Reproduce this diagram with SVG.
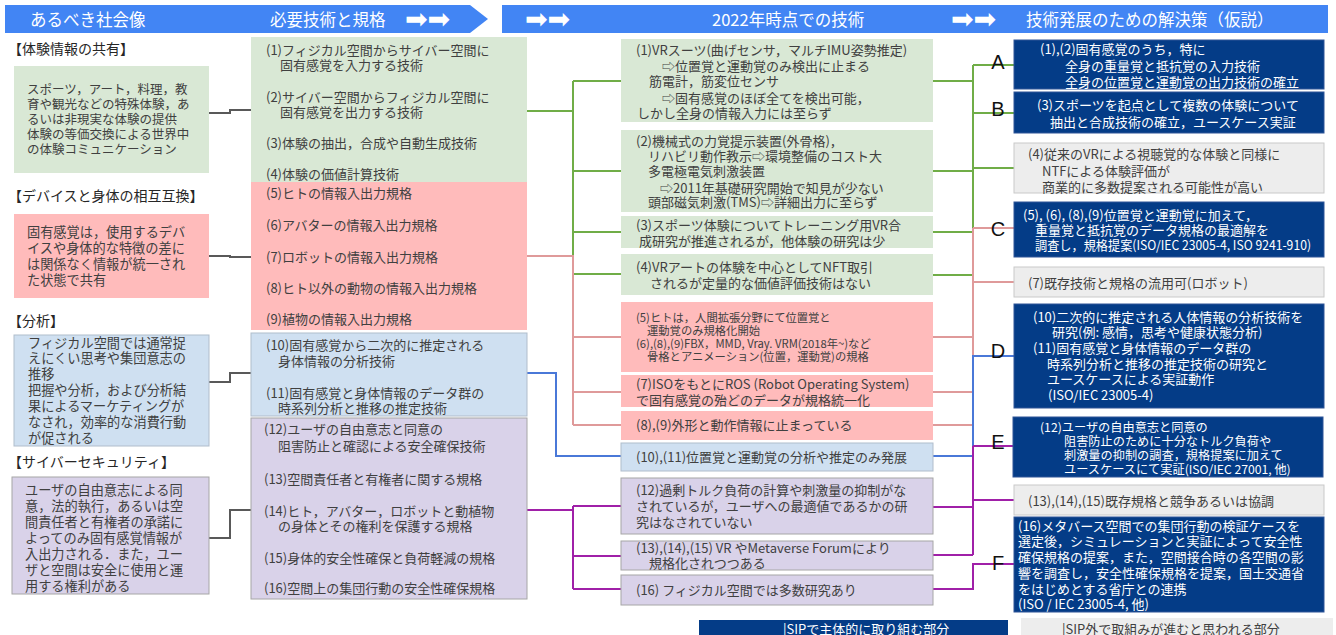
<svg xmlns="http://www.w3.org/2000/svg" width="1336" height="635" viewBox="0 0 1336 635">
<defs><style>
text{font-family:"Noto Sans CJK JP","Noto Sans",sans-serif;dominant-baseline:central;fill:#404040}
.h{font-size:16.5px;fill:#fff}
.ar{font-family:"DejaVu Sans",sans-serif;font-size:27px;fill:#fff}
.sec{font-size:14px;fill:#262626}
.a{font-size:12.5px}
.b{font-size:13.2px}
.m{font-size:13px}
.s{font-size:11.3px}
.e{font-size:12.2px}
.w{fill:#fff}
.lt{font-family:"Liberation Sans",Arial,sans-serif;font-size:20px;fill:#111;text-anchor:middle}
.lg{font-size:13px}
.hd{fill:#4285F4}
.gr{fill:#D9E8D5}
.pk{fill:#FFBBBB}
.bl{fill:#CFE0F1;stroke:#B0BDCB;stroke-width:1}
.pu{fill:#D9D2E9;stroke:#A6A6A6;stroke-width:1}
.nv{fill:#043C87;stroke:#2F5597;stroke-width:1}
.gy{fill:#EDEDED;stroke:#C9C9C9;stroke-width:1}
.c{fill:none;stroke-width:2}
.cg{stroke:#70AD47}
.cp{stroke:#DF9A9A}
.cb{stroke:#4A78D8}
.cm{stroke:#A020A8}
.ck{stroke:#595959}
</style></defs>
<rect width="1336" height="635" fill="#fff"/>

<g id="header">
<polygon class="hd" points="5,5 470,5 488,19 470,33 5,33"/>
<rect class="hd" x="502" y="5" width="826" height="28"/>
<text class="h" x="30" y="19">あるべき社会像</text>
<text class="h" x="270" y="19">必要技術と規格</text>
<text class="ar" x="405" y="18">➡➡</text>
<text class="ar" x="525" y="18">➡➡</text>
<text class="h" x="712" y="19">2022年時点での技術</text>
<text class="ar" x="951" y="18">➡➡</text>
<text class="h" x="1026" y="19">技術発展のための解決策（仮説）</text>
</g>

<g id="connectors">
<path class="c ck" d="M209,113 H230 V110 H251 M209,256 H230 V257 H251 M209,382 H230 V373 H251 M209,538 H230 V510 H251"/>
<path class="c cg" d="M527,111 H573 M573,81 V274 M573,81 H621 M573,171 H621 M573,232 H621 M573,274 H621"/>
<path class="c cp" d="M527,256 H573 V425 M573,337 H621 M573,392 H621 M573,425 H621"/>
<path class="c cb" d="M527,373 H556 V456 H621"/>
<path class="c cm" d="M527,510 H573 M573,506 V589 M573,506 H621 M573,556 H621 M573,589 H621"/>
<path class="c cg" d="M933,81 H973 M933,171 H973 M933,232 H973 M933,275 H973 M973,65 V275 M973,65 H1014 M973,113 H1014 M973,168 H1014"/>
<path class="c cp" d="M973,228 V425 M973,228 H1014 M973,282 H1014 M933,337 H973 M933,392 H973 M933,425 H973"/>
<path class="c cb" d="M933,456 H973 V356 H1014"/>
<path class="c cm" d="M973,446 V555 M973,446 H1013 M973,500 H1014 M933,507 H973 M933,555 H973 M933,589 H973 V564 H1014"/>
</g>

<g id="goal-experience">
<text class="sec" x="8" y="48">【体験情報の共有】</text>
<rect class="gr" x="14" y="66" width="195" height="107"/>
<text class="a" x="27" y="88">スポーツ，アート，料理，教</text>
<text class="a" x="27" y="103">育や観光などの特殊体験，あ</text>
<text class="a" x="27" y="118">るいは非現実な体験の提供</text>
<text class="a" x="27" y="133">体験の等価交換による世界中</text>
<text class="a" x="27" y="148">の体験コミュニケーション</text>
</g>
<g id="goal-device">
<text class="sec" x="8" y="195">【デバイスと身体の相互互換】</text>
<rect class="pk" x="14" y="214" width="195" height="84"/>
<text class="b" x="27" y="231">固有感覚は，使用するデバ</text>
<text class="b" x="27" y="247">イスや身体的な特徴の差に</text>
<text class="b" x="27" y="263">は関係なく情報が統一され</text>
<text class="b" x="27" y="279">た状態で共有</text>
</g>
<g id="goal-analysis">
<text class="sec" x="8" y="320">【分析】</text>
<rect class="bl" x="14" y="335" width="195" height="111"/>
<text class="b" x="28" y="342">フィジカル空間では通常捉</text>
<text class="b" x="28" y="357">えにくい思考や集団意志の</text>
<text class="b" x="28" y="373">推移</text>
<text class="b" x="28" y="389">把握や分析，および分析結</text>
<text class="b" x="28" y="405">果によるマーケティングが</text>
<text class="b" x="28" y="421">なされ，効率的な消費行動</text>
<text class="b" x="28" y="437">が促される</text>
</g>
<g id="goal-security">
<text class="sec" x="8" y="461">【サイバーセキュリティ】</text>
<rect class="pu" x="12" y="477" width="197" height="117"/>
<text class="b" x="25" y="489">ユーザの自由意志による同</text>
<text class="b" x="25" y="505">意，法的執行，あるいは空</text>
<text class="b" x="25" y="521">間責任者と有権者の承諾に</text>
<text class="b" x="25" y="537">よってのみ固有感覚情報が</text>
<text class="b" x="25" y="553">入出力される．また，ユー</text>
<text class="b" x="25" y="569">ザと空間は安全に使用と運</text>
<text class="b" x="25" y="585">用する権利がある</text>
</g>

<g id="req-experience">
<rect class="gr" x="251" y="37" width="276" height="145"/>
<text class="m" x="266" y="49">(1)フィジカル空間からサイバー空間に</text>
<text class="m" x="280" y="64">固有感覚を入力する技術</text>
<text class="m" x="266" y="96">(2)サイバー空間からフィジカル空間に</text>
<text class="m" x="280" y="111">固有感覚を出力する技術</text>
<text class="m" x="266" y="142">(3)体験の抽出，合成や自動生成技術</text>
<text class="m" x="266" y="173">(4)体験の価値計算技術</text>
</g>
<g id="req-device">
<rect class="pk" x="251" y="182" width="276" height="148"/>
<text class="m" x="266" y="192">(5)ヒトの情報入出力規格</text>
<text class="m" x="266" y="224">(6)アバターの情報入出力規格</text>
<text class="m" x="266" y="256">(7)ロボットの情報入出力規格</text>
<text class="m" x="266" y="287">(8)ヒト以外の動物の情報入出力規格</text>
<text class="m" x="266" y="318">(9)植物の情報入出力規格</text>
</g>
<g id="req-analysis">
<rect class="bl" x="251" y="333" width="276" height="83"/>
<text class="m" x="266" y="344">(10)固有感覚から二次的に推定される</text>
<text class="m" x="278" y="360">身体情報の分析技術</text>
<text class="m" x="266" y="392">(11)固有感覚と身体情報のデータ群の</text>
<text class="m" x="278" y="407">時系列分析と推移の推定技術</text>
</g>
<g id="req-security">
<rect class="pu" x="251" y="418" width="276" height="181"/>
<text class="m" x="264" y="428">(12)ユーザの自由意志と同意の</text>
<text class="m" x="278" y="445">阻害防止と確認による安全確保技術</text>
<text class="m" x="264" y="478">(13)空間責任者と有権者に関する規格</text>
<text class="m" x="264" y="510">(14)ヒト，アバター，ロボットと動植物</text>
<text class="m" x="278" y="525">の身体とその権利を保護する規格</text>
<text class="m" x="264" y="557">(15)身体的安全性確保と負荷軽減の規格</text>
<text class="m" x="264" y="587">(16)空間上の集団行動の安全性確保規格</text>
</g>

<g id="now-1">
<rect class="gr" x="621" y="39" width="312" height="83"/>
<text class="m" x="636" y="49">(1)VRスーツ(曲げセンサ，マルチIMU姿勢推定)</text>
<text class="m" x="662" y="65">⇨位置覚と運動覚のみ検出に止まる</text>
<text class="m" x="649" y="80">筋電計，筋変位センサ</text>
<text class="m" x="662" y="97">⇨固有感覚のほぼ全てを検出可能，</text>
<text class="m" x="637" y="112">しかし全身の情報入力には至らず</text>
</g>
<g id="now-2">
<rect class="gr" x="621" y="130" width="312" height="82"/>
<text class="m" x="636" y="140">(2)機械式の力覚提示装置(外骨格)，</text>
<text class="m" x="648" y="155">リハビリ動作教示⇨環境整備のコスト大</text>
<text class="m" x="648" y="170">多電極電気刺激装置</text>
<text class="m" x="660" y="187">⇨2011年基礎研究開始で知見が少ない</text>
<text class="m" x="648" y="201">頭部磁気刺激(TMS)⇨詳細出力に至らず</text>
</g>
<g id="now-3">
<rect class="gr" x="621" y="216" width="312" height="32"/>
<text class="m" x="636" y="224">(3)スポーツ体験についてトレーニング用VR合</text>
<text class="m" x="639" y="240">成研究が推進されるが，他体験の研究は少</text>
</g>
<g id="now-4">
<rect class="gr" x="621" y="254" width="312" height="41"/>
<text class="m" x="636" y="266">(4)VRアートの体験を中心としてNFT取引</text>
<text class="m" x="650" y="282">されるが定量的な価値評価技術はない</text>
</g>
<g id="now-5">
<rect class="pk" x="621" y="302" width="312" height="70"/>
<text class="s" x="636" y="317">(5)ヒトは，人間拡張分野にて位置覚と</text>
<text class="s" x="647" y="330">運動覚のみ規格化開始</text>
<text class="s" x="636" y="343">(6),(8),(9)FBX，MMD, Vray. VRM(2018年~)など</text>
<text class="s" x="647" y="356">骨格とアニメーション(位置，運動覚)の規格</text>
</g>
<g id="now-7">
<rect class="pk" x="621" y="375" width="312" height="32"/>
<text class="m" x="636" y="383">(7)ISOをもとにROS (Robot Operating System)</text>
<text class="m" x="636" y="399">で固有感覚の殆どのデータが規格統一化</text>
</g>
<g id="now-8">
<rect class="pk" x="621" y="411" width="312" height="29"/>
<text class="m" x="636" y="424">(8),(9)外形と動作情報に止まっている</text>
</g>
<g id="now-10">
<rect class="bl" x="621" y="443" width="312" height="28"/>
<text class="m" x="636" y="456">(10),(11)位置覚と運動覚の分析や推定のみ発展</text>
</g>
<g id="now-12">
<rect class="pu" x="621" y="478" width="312" height="56"/>
<text class="m" x="636" y="489">(12)過剰トルク負荷の計算や刺激量の抑制がな</text>
<text class="m" x="636" y="505">されているが，ユーザへの最適値であるかの研</text>
<text class="m" x="636" y="521">究はなされていない</text>
</g>
<g id="now-13">
<rect class="pu" x="621" y="541" width="312" height="29"/>
<text class="m" x="636" y="547">(13),(14),(15) VR やMetaverse Forumにより</text>
<text class="m" x="649" y="562">規格化されつつある</text>
</g>
<g id="now-16">
<rect class="pu" x="621" y="575" width="312" height="30"/>
<text class="m" x="636" y="589">(16) フィジカル空間では多数研究あり</text>
</g>

<g id="sol-A">
<rect class="nv" x="1014" y="40" width="310" height="49"/>
<text class="m w" x="1040" y="48">(1),(2)固有感覚のうち，特に</text>
<text class="m w" x="1065" y="65">全身の重量覚と抵抗覚の入力技術</text>
<text class="m w" x="1065" y="81">全身の位置覚と運動覚の出力技術の確立</text>
<text class="lt" x="998" y="62">A</text>
</g>
<g id="sol-B">
<rect class="nv" x="1014" y="92" width="310" height="41"/>
<text class="m w" x="1037" y="104">(3)スポーツを起点として複数の体験について</text>
<text class="m w" x="1050" y="121">抽出と合成技術の確立，ユースケース実証</text>
<text class="lt" x="998" y="109">B</text>
</g>
<g id="sol-4">
<rect class="gy" x="1014" y="143" width="310" height="50"/>
<text class="m" x="1028" y="153">(4)従来のVRによる視聴覚的な体験と同様に</text>
<text class="m" x="1042" y="170">NTFによる体験評価が</text>
<text class="m" x="1042" y="186">商業的に多数提案される可能性が高い</text>
</g>
<g id="sol-C">
<rect class="nv" x="1014" y="202" width="310" height="55"/>
<text class="m w" x="1023" y="214">(5), (6), (8),(9)位置覚と運動覚に加えて，</text>
<text class="m w" x="1035" y="229">重量覚と抵抗覚のデータ規格の最適解を</text>
<text class="m w" x="1035" y="244" textLength="276" lengthAdjust="spacingAndGlyphs">調査し，規格提案(ISO/IEC 23005-4, ISO 9241-910)</text>
<text class="lt" x="998" y="229">C</text>
</g>
<g id="sol-7">
<rect class="gy" x="1014" y="267" width="310" height="30"/>
<text class="m" x="1028" y="282">(7)既存技術と規格の流用可(ロボット)</text>
</g>
<g id="sol-D">
<rect class="nv" x="1014" y="304" width="310" height="104"/>
<text class="m w" x="1033" y="316">(10)二次的に推定される人体情報の分析技術を</text>
<text class="m w" x="1052" y="331">研究(例: 感情，思考や健康状態分析)</text>
<text class="m w" x="1033" y="347">(11)固有感覚と身体情報のデータ群の</text>
<text class="m w" x="1047" y="363">時系列分析と推移の推定技術の研究と</text>
<text class="m w" x="1047" y="378">ユースケースによる実証動作</text>
<text class="m w" x="1048" y="394">(ISO/IEC 23005-4)</text>
<text class="lt" x="998" y="351">D</text>
</g>
<g id="sol-E">
<rect class="nv" x="1013" y="417" width="310" height="60"/>
<text class="e w" x="1040" y="427">(12)ユーザの自由意志と同意の</text>
<text class="e w" x="1064" y="441">阻害防止のために十分なトルク負荷や</text>
<text class="e w" x="1064" y="455">刺激量の抑制の調査，規格提案に加えて</text>
<text class="e w" x="1064" y="469">ユースケースにて実証(ISO/IEC 27001, 他)</text>
<text class="lt" x="998" y="442">E</text>
</g>
<g id="sol-13">
<rect class="gy" x="1014" y="485" width="310" height="30"/>
<text class="m" x="1028" y="500">(13),(14),(15)既存規格と競争あるいは協調</text>
</g>
<g id="sol-F">
<rect class="nv" x="1014" y="517" width="310" height="95"/>
<text class="m w" x="1018" y="525">(16)メタバース空間での集団行動の検証ケースを</text>
<text class="m w" x="1018" y="540">選定後，シミュレーションと実証によって安全性</text>
<text class="m w" x="1018" y="556">確保規格の提案，また，空間接合時の各空間の影</text>
<text class="m w" x="1018" y="572">響を調査し，安全性確保規格を提案，国土交通省</text>
<text class="m w" x="1018" y="588">をはじめとする省庁との連携</text>
<text class="m w" x="1018" y="603">(ISO / IEC 23005-4, 他)</text>
<text class="lt" x="998" y="563">F</text>
</g>

<g id="legend">
<rect x="699" y="620" width="309" height="15" fill="#043C87"/>
<text class="lg w" x="783" y="628">|SIPで主体的に取り組む部分</text>
<rect x="1021" y="618" width="312" height="17" fill="#EDEDED"/>
<text class="lg" x="1062" y="628">|SIP外で取組みが進むと思われる部分</text>
</g>
</svg>
